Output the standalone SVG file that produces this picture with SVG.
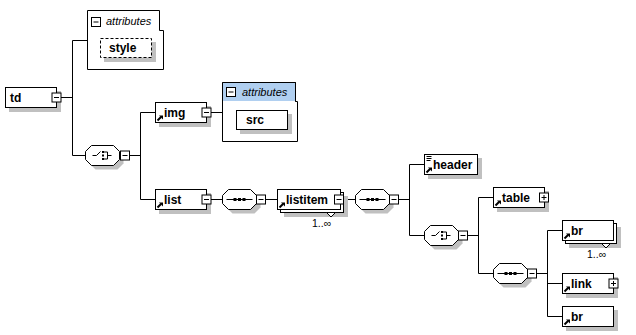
<svg xmlns="http://www.w3.org/2000/svg" xmlns:xlink="http://www.w3.org/1999/xlink" width="636" height="335" viewBox="0 0 636 335">
<style>
.box{fill:#fff;stroke:#000;stroke-width:1}
.dash{fill:#fff;stroke:#000;stroke-width:1;stroke-dasharray:3,2}
.sh{fill:#c0c0c0;stroke:none}
.conn{fill:none;stroke:#000;stroke-width:1}
.name{font-family:"Liberation Sans",Arial,sans-serif;font-weight:bold;font-size:12px;fill:#000}
.attr{font-family:"Liberation Sans",Arial,sans-serif;font-style:italic;font-size:11px;fill:#000}
.occ{font-family:"Liberation Sans",Arial,sans-serif;font-size:10.5px;fill:#000}
.hdr{fill:#b0cff0;stroke:none}
</style>
<defs>
<g id="minus"><rect x="0" y="0" width="9" height="9" fill="#fff" stroke="#000"/><path d="M2 4.5H7" stroke="#000"/></g>
<g id="plus"><rect x="0" y="0" width="9" height="9" fill="#fff" stroke="#000"/><path d="M2 4.5H7M4.5 2V7" stroke="#000"/></g>
<polygon id="oct" points="6,0 28,0 34,6 34,14 28,20 6,20 0,14 0,6"/>
<g id="ref"><path d="M2 18L5.5 14.5" stroke="#000" stroke-width="2" fill="none"/><polygon points="3.5,13 7.5,13 7.5,17" fill="#000"/></g>
<g id="seqg"><path d="M4 10H30" stroke="#000" fill="none"/><rect x="11" y="8.5" width="3" height="3" fill="#000"/><rect x="15.5" y="8.5" width="3" height="3" fill="#000"/><rect x="20" y="8.5" width="3" height="3" fill="#000"/></g>
<g id="choiceg"><path d="M7 10H11L15 6" stroke="#000" fill="none"/><rect x="16.5" y="5.5" width="2" height="2" fill="#000"/><rect x="16.5" y="9" width="2" height="2" fill="#000"/><rect x="16.5" y="12.5" width="2" height="2" fill="#000"/><path d="M18.5 6.5H22V13.5H18.5M22 10H26" stroke="#000" fill="none"/></g>
</defs>
<rect width="636" height="335" fill="#fff"/>

<g id="connectors">
<path class="conn" d="M61 97.5H72.5M72.5 40.5V155.5M72.5 40.5H87.5M72.5 155.5H85.5"/>
<path class="conn" d="M129.5 155.5H140.5M140.5 112.5V199.5M140.5 112.5H155.5M140.5 199.5H155.5"/>
<path class="conn" d="M211 112.5H222.5M211 199.5H222.5M265.5 199.5H277.5M344 199.5H355.5M398.5 199.5H409.5"/>
<path class="conn" d="M409.5 164.5V235.5M409.5 164.5H424.5M409.5 235.5H424.5M467.5 235.5H478.5"/>
<path class="conn" d="M478.5 197.5V273.5M478.5 197.5H493.5M478.5 273.5H493.5M536.5 273.5H547.5"/>
<path class="conn" d="M547.5 230.5V316.5M547.5 230.5H562.5M547.5 283.5H562.5M547.5 316.5H562.5"/>
</g>

<g id="td">
<rect class="sh" x="9" y="91" width="52" height="21"/>
<rect class="box" x="5.5" y="87.5" width="51" height="20"/>
<text class="name" x="10" y="102">td</text>
<use xlink:href="#minus" x="52" y="93"/>
</g>

<g id="td-attributes">
<polygon class="box" points="87.5,10.5 159.5,10.5 159.5,30.5 163.5,30.5 163.5,69.5 87.5,69.5"/>
<use xlink:href="#minus" x="91.5" y="17.5"/>
<text class="attr" x="106" y="25">attributes</text>
</g>

<g id="style">
<rect class="sh" x="104" y="42" width="52" height="20"/>
<rect class="dash" x="100.5" y="38.5" width="51" height="19"/>
<text class="name" x="109" y="52">style</text>
</g>

<g id="choice1">
<use xlink:href="#oct" class="sh" x="89.5" y="149.5"/>
<use xlink:href="#oct" class="box" x="85.5" y="145.5"/>
<use xlink:href="#choiceg" x="85.5" y="145.5"/>
<use xlink:href="#minus" x="120.5" y="151"/>
</g>

<g id="img">
<rect class="sh" x="159" y="106" width="52" height="21"/>
<rect class="box" x="155.5" y="102.5" width="51" height="20"/>
<use xlink:href="#ref" x="155.5" y="102.5"/>
<text class="name" x="164" y="117">img</text>
<use xlink:href="#minus" x="202" y="108"/>
</g>

<g id="img-attributes">
<polygon class="box" points="222.5,82.5 295.5,82.5 295.5,101.5 297.5,101.5 297.5,141.5 222.5,141.5"/>
<rect class="hdr" x="223" y="83" width="72" height="18"/>
<path class="conn" d="M222.5 82.5H295.5V101.5"/>
<use xlink:href="#minus" x="226.5" y="87.5"/>
<text class="attr" x="242" y="96">attributes</text>
</g>

<g id="src">
<rect class="sh" x="240" y="114" width="52" height="20"/>
<rect class="box" x="236.5" y="110.5" width="51" height="19"/>
<text class="name" x="246" y="124">src</text>
</g>

<g id="list">
<rect class="sh" x="159" y="193" width="52" height="21"/>
<rect class="box" x="155.5" y="189.5" width="51" height="20"/>
<use xlink:href="#ref" x="155.5" y="189.5"/>
<text class="name" x="164" y="204">list</text>
<use xlink:href="#minus" x="202" y="195"/>
</g>

<g id="seq1">
<use xlink:href="#oct" class="sh" x="226.5" y="193.5"/>
<use xlink:href="#oct" class="box" x="222.5" y="189.5"/>
<use xlink:href="#seqg" x="222.5" y="189.5"/>
<use xlink:href="#minus" x="256.5" y="195"/>
</g>

<g id="listitem">
<rect class="sh" x="284" y="196" width="64" height="21"/>
<rect class="box" x="280.5" y="192.5" width="63" height="20"/>
<rect class="box" x="277.5" y="189.5" width="63" height="20"/>
<use xlink:href="#ref" x="277.5" y="189.5"/>
<text class="name" x="286" y="204">listitem</text>
<use xlink:href="#minus" x="334.5" y="195"/>
<polygon class="box" points="326.5,212.5 335.5,212.5 331,217"/>
<text class="occ" x="312" y="227">1..∞</text>
</g>

<g id="seq2">
<use xlink:href="#oct" class="sh" x="359.5" y="193.5"/>
<use xlink:href="#oct" class="box" x="355.5" y="189.5"/>
<use xlink:href="#seqg" x="355.5" y="189.5"/>
<use xlink:href="#minus" x="389.5" y="195"/>
</g>

<g id="header">
<rect class="sh" x="428" y="158" width="54" height="21"/>
<rect class="box" x="424.5" y="154.5" width="53" height="20"/>
<path class="conn" d="M426.5 156.5H431.5M426.5 158.5H431.5M426.5 160.5H430.5"/>
<use xlink:href="#ref" x="424.5" y="154.5"/>
<text class="name" x="433" y="169">header</text>
</g>

<g id="choice2">
<use xlink:href="#oct" class="sh" x="428.5" y="229.5"/>
<use xlink:href="#oct" class="box" x="424.5" y="225.5"/>
<use xlink:href="#choiceg" x="424.5" y="225.5"/>
<use xlink:href="#minus" x="458.5" y="231"/>
</g>

<g id="table">
<rect class="sh" x="497" y="191" width="52" height="21"/>
<rect class="box" x="493.5" y="187.5" width="51" height="20"/>
<use xlink:href="#ref" x="493.5" y="187.5"/>
<text class="name" x="502" y="202">table</text>
<use xlink:href="#plus" x="539.5" y="193"/>
</g>

<g id="seq3">
<use xlink:href="#oct" class="sh" x="497.5" y="267.5"/>
<use xlink:href="#oct" class="box" x="493.5" y="263.5"/>
<use xlink:href="#seqg" x="493.5" y="263.5"/>
<use xlink:href="#minus" x="527.5" y="269"/>
</g>

<g id="br-multi">
<rect class="sh" x="569" y="227" width="52" height="21"/>
<rect class="box" x="565.5" y="223.5" width="51" height="20"/>
<rect class="box" x="562.5" y="220.5" width="51" height="20"/>
<use xlink:href="#ref" x="562.5" y="220.5"/>
<text class="name" x="571" y="235">br</text>
<polygon class="box" points="601.5,243.5 610.5,243.5 606,248"/>
<text class="occ" x="587" y="258">1..∞</text>
</g>

<g id="link">
<rect class="sh" x="566" y="277" width="52" height="21"/>
<rect class="box" x="562.5" y="273.5" width="51" height="20"/>
<use xlink:href="#ref" x="562.5" y="273.5"/>
<text class="name" x="571" y="288">link</text>
<use xlink:href="#plus" x="609" y="279"/>
</g>

<g id="br">
<rect class="sh" x="566" y="310" width="52" height="21"/>
<rect class="box" x="562.5" y="306.5" width="51" height="20"/>
<use xlink:href="#ref" x="562.5" y="306.5"/>
<text class="name" x="571" y="321">br</text>
</g>
</svg>
